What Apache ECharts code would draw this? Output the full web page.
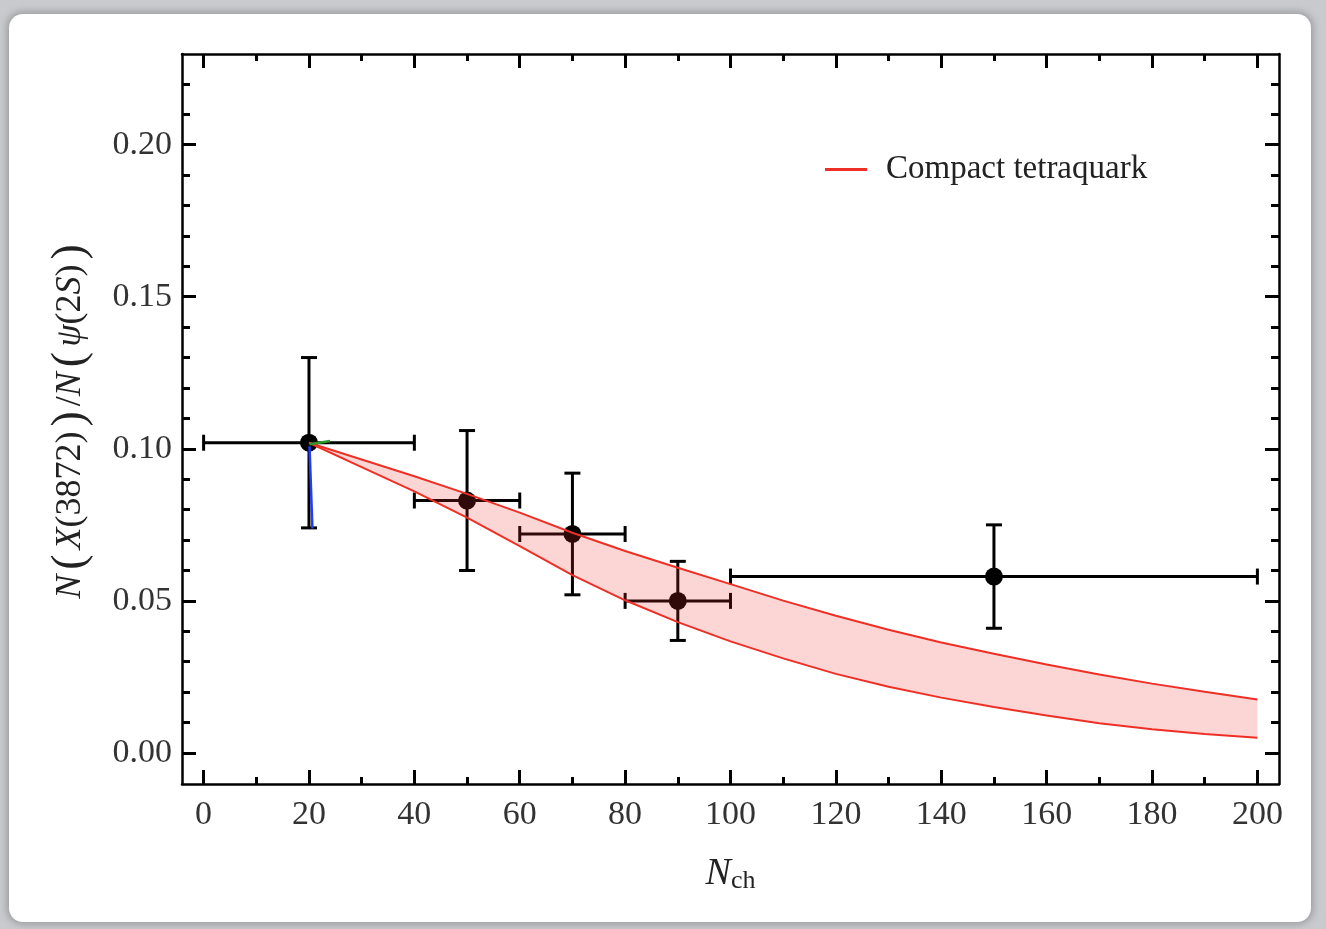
<!DOCTYPE html>
<html>
<head>
<meta charset="utf-8">
<script src="https://cdn.jsdelivr.net/npm/echarts@6/dist/echarts.min.js"></script>
<style>
  html, body { margin: 0; padding: 0; width: 1326px; height: 929px; overflow: hidden; background: #c8cacd; }
  #card { position: absolute; left: 9px; top: 14px; width: 1302px; height: 908px; background: #fff; border-radius: 14px; box-shadow: 0 0 6px 3px rgba(150,152,156,0.8); }
  #chart { position: absolute; left: 0; top: 0; width: 1326px; height: 929px; }
</style>
</head>
<body>
<div id="card"></div>
<div id="chart"></div>
<script>
// ---- data points (N_ch bins) ----
const nch   = [20, 50, 70, 90, 150];
const xLow  = [0, 40, 60, 80, 100];
const xHigh = [40, 60, 80, 100, 200];
const ratio = [0.102, 0.083, 0.072, 0.050, 0.058];
const yLow  = [0.074, 0.060, 0.052, 0.037, 0.041];
const yHigh = [0.130, 0.106, 0.092, 0.063, 0.075];

// ---- compact tetraquark band ----
const bandX     = [20, 30, 40, 50, 60, 70, 80, 90, 100, 110, 120, 130, 140, 150, 160, 170, 180, 190, 200];
const bandUpper = [0.102, 0.0965, 0.0910, 0.0852, 0.0790, 0.0724, 0.0664, 0.0609, 0.0555, 0.0501, 0.0451, 0.0405, 0.0363, 0.0326, 0.0291, 0.0258, 0.0228, 0.0201, 0.0176];
const bandLower = [0.102, 0.0940, 0.0860, 0.0774, 0.0680, 0.0585, 0.0502, 0.0430, 0.0367, 0.0311, 0.0260, 0.0218, 0.0182, 0.0151, 0.0123, 0.0098, 0.0078, 0.0062, 0.0050];

// ---- small degenerate model lines near the first point ----
const blueX = [20.1, 20.65];
const blueY = [0.1008, 0.0738];
const greenX = [20.1, 24.0];
const greenY = [0.1015, 0.1026];

// ---- ticks ----
const xMajor = [0, 20, 40, 60, 80, 100, 120, 140, 160, 180, 200];
const xMinor = [10, 30, 50, 70, 90, 110, 130, 150, 170, 190];
const yMajor = [0.00, 0.05, 0.10, 0.15, 0.20];
const yMinor = [0.01, 0.02, 0.03, 0.04, 0.06, 0.07, 0.08, 0.09, 0.11, 0.12, 0.13, 0.14, 0.16, 0.17, 0.18, 0.19, 0.21, 0.22];

const legendName = 'Compact tetraquark';
const X_MIN = -4.1, X_MAX = 204.1, Y_MIN = -0.0102, Y_MAX = 0.2298;

const FONT = '"Liberation Serif", "DejaVu Serif", serif';
const RED = '#ee2f25';

const chart = echarts.init(document.getElementById('chart'), null, { renderer: 'canvas' });

function xAx(pos, ticks, len, labels, line) {
  return {
    type: 'value', position: pos, min: X_MIN, max: X_MAX,
    axisLine: { show: line, onZero: false, lineStyle: { color: '#000', width: 2.5 } },
    axisTick: { show: true, inside: true, length: len, customValues: ticks, lineStyle: { color: '#000', width: 3 } },
    axisLabel: labels ? { show: true, customValues: ticks, margin: 14, color: '#333', fontFamily: FONT, fontSize: 34 } : { show: false },
    splitLine: { show: false }
  };
}
function yAx(pos, ticks, len, labels, line) {
  return {
    type: 'value', position: pos, min: Y_MIN, max: Y_MAX,
    axisLine: { show: line, onZero: false, lineStyle: { color: '#000', width: 2.5 } },
    axisTick: { show: true, inside: true, length: len, customValues: ticks, lineStyle: { color: '#000', width: 3 } },
    axisLabel: labels ? { show: true, customValues: ticks, margin: 10, color: '#333', fontFamily: FONT, fontSize: 34,
      formatter: v => v.toFixed(2) } : { show: false },
    splitLine: { show: false }
  };
}

const xAxes = [
  xAx('bottom', xMajor, 14, true, true),
  xAx('bottom', xMinor, 7, false, false),
  xAx('top', xMajor, 14, false, true),
  xAx('top', xMinor, 7, false, false)
];
xAxes[0].name = '{i|N}{s|ch}';
xAxes[0].nameLocation = 'middle';
xAxes[0].nameGap = 70;
xAxes[0].nameTextStyle = {
  rich: {
    i: { fontFamily: FONT, fontStyle: 'italic', fontSize: 38, color: '#222' },
    s: { fontFamily: FONT, fontSize: 26, color: '#222', padding: [14, 0, 0, 0] }
  }
};

const yAxes = [
  yAx('left', yMajor, 14, true, true),
  yAx('left', yMinor, 8, false, false),
  yAx('right', yMajor, 14, false, true),
  yAx('right', yMinor, 8, false, false)
];
yAxes[0].name = '{i|N}{p|(}{i|X}{r|(3872)}{p|)}{r|/}{i|N}{p|(}{i|ψ}{r|(2}{i|S}{r|)}{p|)}';
yAxes[0].nameLocation = 'middle';
yAxes[0].nameRotate = 90;
yAxes[0].nameGap = 88;
yAxes[0].nameTextStyle = {
  rich: {
    i: { fontFamily: FONT, fontStyle: 'italic', fontSize: 36, color: '#222' },
    r: { fontFamily: FONT, fontSize: 36, color: '#222' },
    p: { fontFamily: FONT, fontSize: 46, color: '#222', padding: [0, 5, 0, 5] }
  }
};

const errData = nch.map((x, i) => [x, ratio[i], xLow[i], xHigh[i], yLow[i], yHigh[i]]);

const option = {
  animation: false,
  backgroundColor: 'transparent',
  grid: { left: 182, right: 47, top: 54, bottom: 145 },
  xAxis: xAxes,
  yAxis: yAxes,
  legend: {
    show: true,
    left: 820, top: 148,
    data: [{ name: legendName, icon: 'rect' }],
    itemWidth: 42, itemHeight: 3,
    textStyle: { fontFamily: FONT, fontSize: 33, color: '#222', padding: [0, 0, 0, 14] }
  },
  series: [
    {
      type: 'custom', name: 'data', xAxisIndex: 0, yAxisIndex: 0, z: 2,
      data: errData,
      renderItem: function (params, api) {
        const c = api.coord([api.value(0), api.value(1)]);
        const l = api.coord([api.value(2), api.value(1)]);
        const r = api.coord([api.value(3), api.value(1)]);
        const b = api.coord([api.value(0), api.value(4)]);
        const t = api.coord([api.value(0), api.value(5)]);
        const st = { stroke: '#000', lineWidth: 3 };
        const cap = 8;
        return {
          type: 'group',
          children: [
            { type: 'line', shape: { x1: l[0], y1: l[1], x2: r[0], y2: r[1] }, style: st },
            { type: 'line', shape: { x1: l[0], y1: l[1] - cap, x2: l[0], y2: l[1] + cap }, style: st },
            { type: 'line', shape: { x1: r[0], y1: r[1] - cap, x2: r[0], y2: r[1] + cap }, style: st },
            { type: 'line', shape: { x1: b[0], y1: b[1], x2: t[0], y2: t[1] }, style: st },
            { type: 'line', shape: { x1: b[0] - cap, y1: b[1], x2: b[0] + cap, y2: b[1] }, style: st },
            { type: 'line', shape: { x1: t[0] - cap, y1: t[1], x2: t[0] + cap, y2: t[1] }, style: st },
            { type: 'circle', shape: { cx: c[0], cy: c[1], r: 9 }, style: { fill: '#000' } }
          ]
        };
      }
    },
    {
      type: 'custom', name: 'band', xAxisIndex: 0, yAxisIndex: 0, z: 3, silent: true,
      data: [[bandX[0], bandUpper[0]]],
      renderItem: function (params, api) {
        const pts = [];
        for (let i = 0; i < bandX.length; i++) pts.push(api.coord([bandX[i], bandUpper[i]]));
        for (let i = bandX.length - 1; i >= 0; i--) pts.push(api.coord([bandX[i], bandLower[i]]));
        return { type: 'polygon', shape: { points: pts }, style: { fill: 'rgba(240,50,40,0.2)' } };
      }
    },
    {
      type: 'line', name: legendName, xAxisIndex: 0, yAxisIndex: 0, z: 4,
      data: bandX.map((x, i) => [x, bandUpper[i]]),
      symbol: 'none', itemStyle: { color: RED }, lineStyle: { color: RED, width: 2 }
    },
    {
      type: 'line', name: 'lower', xAxisIndex: 0, yAxisIndex: 0, z: 4,
      data: bandX.map((x, i) => [x, bandLower[i]]),
      symbol: 'none', lineStyle: { color: RED, width: 2 }
    },
    {
      type: 'line', name: 'blue', xAxisIndex: 0, yAxisIndex: 0, z: 5,
      data: blueX.map((x, i) => [x, blueY[i]]),
      symbol: 'none', lineStyle: { color: '#1f3cff', width: 2.5 }
    },
    {
      type: 'line', name: 'green', xAxisIndex: 0, yAxisIndex: 0, z: 5,
      data: greenX.map((x, i) => [x, greenY[i]]),
      symbol: 'none', lineStyle: { color: '#2e9a2e', width: 2.5 }
    }
  ]
};
chart.setOption(option);
</script>
</body>
</html>
